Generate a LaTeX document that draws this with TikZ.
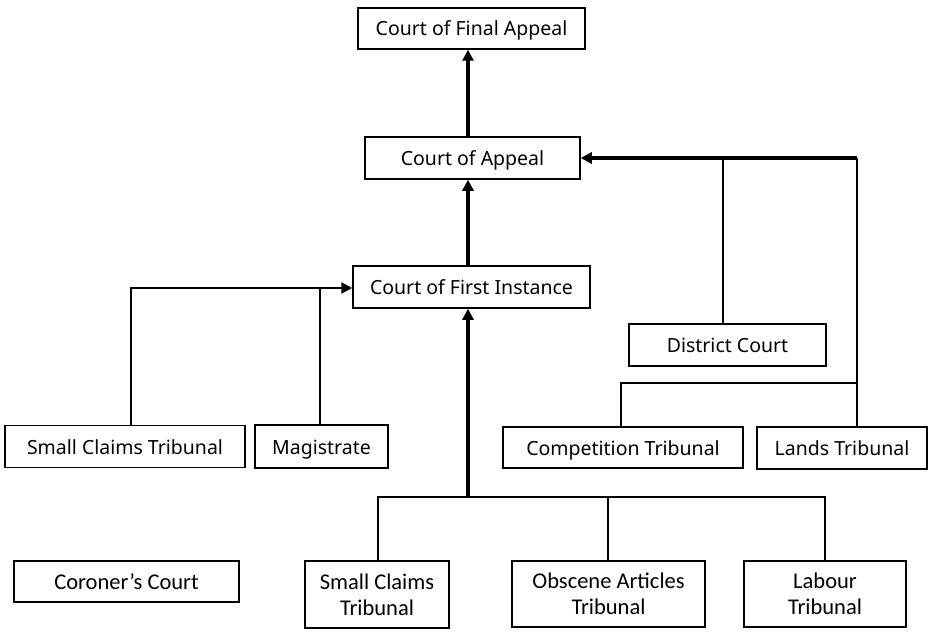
\documentclass[tikz,border=0pt]{standalone}
\usepackage{fontspec}
\setmainfont{Noto Sans}
\newfontfamily\narrowfont{Carlito}
\usetikzlibrary{arrows.meta}
\begin{document}
\begin{tikzpicture}[x=1pt,y=-1pt,
  box/.style={draw,line width=1.5pt,inner sep=0pt,align=center,text height=15pt,text depth=0pt,font=\fontsize{19.5}{22}\selectfont},
  nbox/.style={draw,line width=1.5pt,inner sep=0pt,align=center,font=\narrowfont\fontsize{22.5}{26}\selectfont},
  thick line/.style={line width=3.4pt},
  thin line/.style={line width=1.8pt},
  tip/.style={-{Triangle[length=11pt,width=11pt]}}]
\useasboundingbox (0,0) rectangle (930,634);
\node[box,minimum width=227pt,minimum height=41pt] (cfa) at (471.5,28.5) {Court of Final Appeal};
\node[box,minimum width=215pt,minimum height=42pt] (ca) at (472.5,158) {Court of Appeal};
\node[box,minimum width=237pt,minimum height=42pt] (cfi) at (471.5,287) {Court of First Instance};
\node[box,minimum width=197pt,minimum height=42pt] (dc) at (727.5,345) {District Court};
\node[box,minimum width=240pt,minimum height=41pt] (ct) at (623,447.5) {Competition Tribunal};
\node[box,minimum width=170pt,minimum height=42pt] (lt) at (842,448) {Lands Tribunal};
\node[box,minimum width=240pt,minimum height=42pt] (sct) at (125,446.5) {Small Claims Tribunal};
\node[box,minimum width=133pt,minimum height=43pt] (mag) at (321.5,446.5) {Magistrate};
\node[nbox,minimum width=225pt,minimum height=41pt] (cor) at (126.5,581.5) {Coroner’s Court};
\node[nbox,minimum width=144pt,minimum height=67pt] (sc2) at (377,594.5) {Small Claims\\Tribunal};
\node[nbox,minimum width=193pt,minimum height=66pt] (oat) at (608.5,594) {Obscene Articles\\Tribunal};
\node[nbox,minimum width=162pt,minimum height=66pt] (lab) at (825,594) {Labour\\Tribunal};
% coordinates
\coordinate (rbus) at (857,158);
\coordinate (lbus) at (131,288);
\coordinate (cbus) at (621,383);
\coordinate (rbusl) at (857,383);
\coordinate (bbus) at (468,497);
\coordinate (bbl) at (378,497);
\coordinate (bbr) at (825,497);
% top arrows
\draw[thick line,tip] (ca.north -| 468,0) -- (cfa.south -| 468,0);
\draw[thick line,tip] (cfi.north -| 468,0) -- (ca.south -| 468,0);
% right group
\draw[thick line,tip] (rbus) -- (ca.east |- rbus);
\draw[thin line] (dc.north -| 723,0) -- (723,158);
\draw[thin line] (lt.north -| rbus) -- (rbus);
\draw[thin line] (ct.north -| cbus) -- (cbus) -- (rbusl);
% left group
\draw[line width=2.3pt,tip] (sct.north -| lbus) -- (lbus) -- (cfi.west |- lbus);
\draw[line width=2.3pt] (mag.north -| 320,0) -- (320,288);
% bottom group
\draw[thick line,tip] (bbus) -- (cfi.south -| bbus);
\draw[thin line] (sc2.north -| bbl) -- (bbl) -- (bbr) -- (lab.north -| bbr);
\draw[thin line] (oat.north -| 608,0) -- (608,497);
\end{tikzpicture}
\end{document}
